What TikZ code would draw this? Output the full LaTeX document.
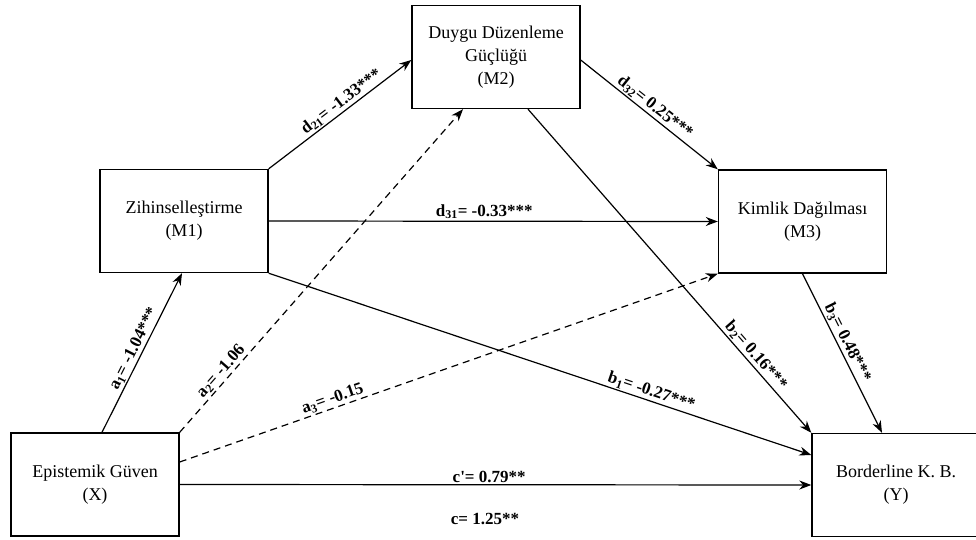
\documentclass[tikz,border=0pt]{standalone}
\usepackage{fontspec}
\setmainfont{Liberation Serif}[Ligatures=TeXOff]
\usetikzlibrary{arrows.meta}
\begin{document}
\begin{tikzpicture}[x=1pt,y=-1pt,
  var/.style={draw, line width=1.4pt, minimum width=168pt, minimum height=103pt,
    align=center, font=\fontsize{18}{23}\selectfont, inner sep=0pt},
  effect/.style={line width=1.2pt, -{Stealth[length=12pt,width=9pt]}},
  nonsig/.style={effect, dash pattern=on 7pt off 5pt},
  coeftext/.style={font=\fontsize{17}{19}\selectfont\bfseries},
  coef/.style={coeftext, sloped, above, inner sep=1.5pt}]
\useasboundingbox (0,0) rectangle (976,540);

% variables
\node[var] (X)  at (95,484.5)  {Epistemik Güven\\(X)};
\node[var] (M1) at (184,221)   {Zihinselleştirme\\(M1)};
\node[var] (M2) at (496,57)    {Duygu Düzenleme\\Güçlüğü\\(M2)};
\node[var] (M3) at (802.5,221.5) {Kimlik Dağılması\\(M3)};
\node[var] (Y)  at (896,485)   {Borderline K. B.\\(Y)};

% paths
\draw[effect] ([xshift=7pt]X.north) -- node[coef, pos=0.5] {a\textsubscript{1}= -1.04***} ([xshift=-2pt]M1.south);
\draw[nonsig] (X.north east) -- node[coef, pos=0.17] {a\textsubscript{2}= -1.06} ([xshift=-33pt]M2.south);
\draw[nonsig] ([yshift=22.5pt]X.east) -- node[coef, pos=0.29] {a\textsubscript{3}= -0.15} (M3.south west);
\draw[effect] (M1.north east) -- node[coef, pos=0.55] {d\textsubscript{21}= -1.33***} ([yshift=-3pt]M2.west);
\draw[effect] ([yshift=-3pt]M2.east) -- node[coef, pos=0.5] {d\textsubscript{32}= 0.25***} (M3.north west);
\draw[effect] (M1.east) -- node[coef, pos=0.48] {d\textsubscript{31}= -0.33***} (M3.west);
\draw[effect] ([xshift=32pt]M2.south) -- node[coef, pos=0.78] {b\textsubscript{2}= 0.16***} (Y.north west);
\draw[effect] (M1.south east) -- node[coef, pos=0.7] {b\textsubscript{1}= -0.27***} ([yshift=30pt]Y.west);
\draw[effect] (M3.south) -- node[coef, pos=0.46] {b\textsubscript{3}= 0.48***} ([xshift=-14pt]Y.north);
\draw[effect] (X.east) -- node[coef, pos=0.49] {c'= 0.79**} (Y.west);
\node[coeftext] (ctotal) at (485,519) {c= 1.25**};
\end{tikzpicture}
\end{document}
